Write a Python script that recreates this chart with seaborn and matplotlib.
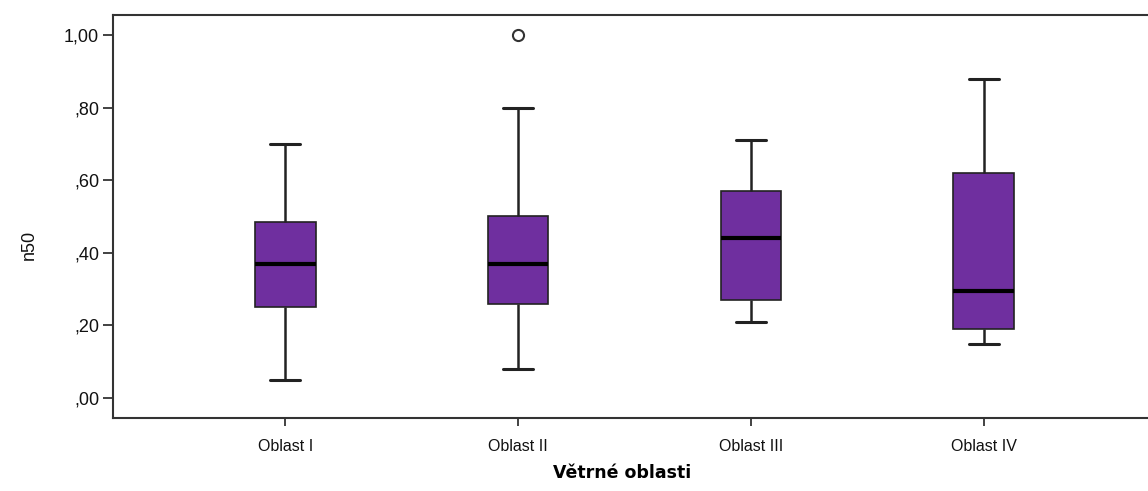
import matplotlib
matplotlib.use("Agg")
import matplotlib.pyplot as plt
from matplotlib import font_manager
import seaborn as sns
import pandas as pd

# ---- data ----
categories = ["Oblast I", "Oblast II", "Oblast III", "Oblast IV"]
oblast_1 = [0.05, 0.25, 0.37, 0.485, 0.70]
oblast_2 = [0.08, 0.20, 0.26, 0.30, 0.37, 0.45, 0.50, 0.80, 1.00]
oblast_3 = [0.21, 0.27, 0.44, 0.57, 0.71]
oblast_4 = [0.15, 0.19, 0.295, 0.62, 0.88]
ytick_values = [0.0, 0.2, 0.4, 0.6, 0.8, 1.0]
ytick_labels = [",00", ",20", ",40", ",60", ",80", "1,00"]
x_label = "Větrné oblasti"
y_label = "n50"

rows = []
for cat, vals in zip(categories, [oblast_1, oblast_2, oblast_3, oblast_4]):
    for v in vals:
        rows.append({"oblast": cat, "n50": v})
df = pd.DataFrame(rows)

sns.set_style("white")
available = {f.name for f in font_manager.fontManager.ttflist}
narrow = "Liberation Sans Narrow" if "Liberation Sans Narrow" in available else "Liberation Sans"
plt.rcParams["font.family"] = [narrow, "DejaVu Sans"]

fig = plt.figure(figsize=(11.48, 4.91), dpi=100)
ax = fig.add_axes([113 / 1148, 1 - 418 / 491, (1156 - 113) / 1148, 403 / 491])

purple = "#6f2f9f"
sns.boxplot(
    data=df, x="oblast", y="n50", order=categories, ax=ax,
    color=purple, saturation=1, width=0.26, whis=1.5,
    linecolor="black", linewidth=1.6,
    boxprops=dict(facecolor=purple, edgecolor="#222222", linewidth=1.2),
    medianprops=dict(color="black", linewidth=3),
    whiskerprops=dict(color="#222222", linewidth=1.8),
    capprops=dict(color="#222222", linewidth=2.2),
    flierprops=dict(marker="o", markersize=8, markerfacecolor="white",
                    markeredgecolor="#333333", markeredgewidth=1.5),
)

ax.set_xlim(-0.74, 3.74)
ax.set_ylim(-0.055, 1.055)
ax.set_yticks(ytick_values)
ax.set_yticklabels(ytick_labels)
ax.tick_params(axis="y", which="major", direction="out", length=7, width=1.2,
               labelsize=13, color="#222222", labelcolor="#111111", left=True, pad=3)
ax.tick_params(axis="x", which="major", direction="out", length=6, width=1.2,
               labelsize=11.5, color="#222222", labelcolor="#111111", bottom=True, pad=9)

for s in ax.spines.values():
    s.set_color("#333333")
    s.set_linewidth(1.5)

ax.set_xlabel(x_label, fontsize=12.5, fontweight="bold", family="DejaVu Sans", color="black")
ax.xaxis.set_label_coords((622 - 113) / 1043, -0.115)
ax.set_ylabel(y_label, fontsize=13, color="#111111")
ax.yaxis.set_label_coords(-(113 - 38) / 1043, (418 - 245) / 403)

fig.savefig("out.png", dpi=100)
